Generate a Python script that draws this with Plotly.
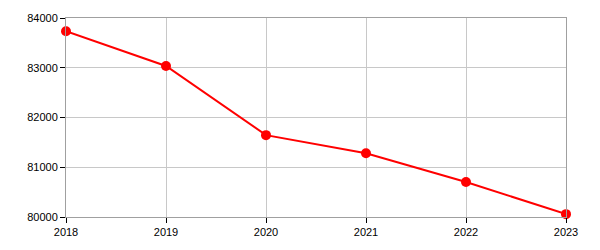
import plotly.graph_objects as go

years = [2018, 2019, 2020, 2021, 2022, 2023]
values = [83735, 83035, 81645, 81283, 80703, 80057]
y_ticks = [80000, 81000, 82000, 83000, 84000]

fig = go.Figure()
fig.add_trace(go.Scatter(
    x=years, y=values, mode="lines+markers",
    line=dict(color="#ff0000", width=2),
    marker=dict(color="#ff0000", size=10),
    cliponaxis=False,
))

axis_common = dict(
    showgrid=True, gridcolor="#c8c8c8", gridwidth=1,
    showline=True, linecolor="#a0a0a0", linewidth=1, mirror=True,
    ticks="outside", ticklen=5, tickcolor="#000000",
    tickfont=dict(family="Liberation Sans, Arial", size=11, color="#000000"),
    zeroline=False,
)

fig.update_xaxes(range=[2018, 2023], tickvals=years, ticktext=[str(y) for y in years], **axis_common)
fig.update_yaxes(range=[80000, 84000], tickvals=y_ticks, ticktext=[str(v) for v in y_ticks], **axis_common)

fig.update_layout(
    width=600, height=250,
    margin=dict(l=66, r=34, t=15, b=32),
    paper_bgcolor="white", plot_bgcolor="white",
    showlegend=False,
)

fig.write_html("out.html")
